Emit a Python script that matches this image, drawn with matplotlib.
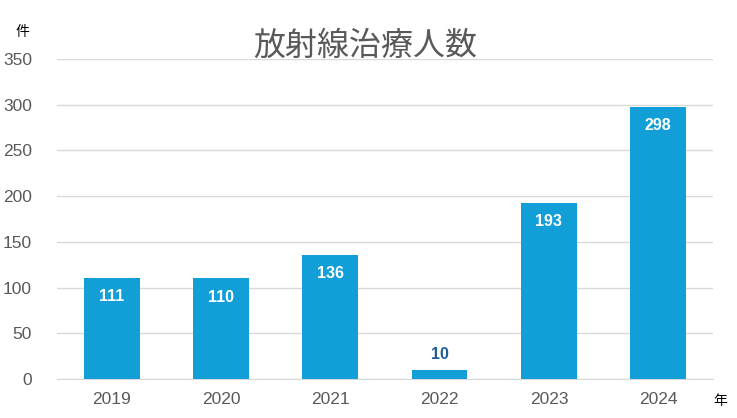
import matplotlib.pyplot as plt
import numpy as np

plt.rcParams['font.family'] = ['Liberation Sans', 'Noto Sans CJK JP', 'DejaVu Sans']

years = ['2019', '2020', '2021', '2022', '2023', '2024']
counts = [111, 110, 136, 10, 193, 298]

fig = plt.figure(figsize=(7.37, 4.18), dpi=100)
ax = fig.add_axes([0.0773, 0.0933, 0.89, 0.7656])

x = np.arange(len(years))
bars = ax.bar(x, counts, width=0.51, color='#129FD8', zorder=3)

ax.set_xlim(-0.5, len(years) - 0.5)
ax.set_ylim(0, 350)
ax.set_yticks(range(0, 351, 50))
ax.set_xticks(x)
ax.set_xticklabels(years)
ax.tick_params(axis='both', length=0, labelsize=12.5, colors='#595959')
ax.tick_params(axis='y', pad=18)
ax.tick_params(axis='x', pad=9)
ax.grid(axis='y', color='#D9D9D9', linewidth=1, zorder=0)
for s in ['top', 'right', 'left']:
    ax.spines[s].set_visible(False)
ax.spines['bottom'].set_color('#D9D9D9')

# data labels: inside bar, or above if the bar is too short
for xi, v in zip(x, counts):
    if v >= 50:
        ax.annotate(str(v), (xi, v), xytext=(0, -13.5), textcoords='offset points',
                    ha='center', va='center', color='white', fontsize=11.5, fontweight='bold')
    else:
        ax.annotate(str(v), (xi, v), xytext=(0, 11), textcoords='offset points',
                    ha='center', va='center', color='#1F5C99', fontsize=11.5, fontweight='bold')

fig.text(0.495, 0.89, '放射線治療人数', ha='center', va='center', fontsize=23,
         color='#595959', family=['Noto Sans CJK JP', 'DejaVu Sans'])
fig.text(0.031, 0.924, '件', ha='center', va='center', fontsize=10, color='black',
         family=['Noto Sans CJK JP', 'DejaVu Sans'])
fig.text(0.977, 0.04, '年', ha='center', va='center', fontsize=10, color='black',
         family=['Noto Sans CJK JP', 'DejaVu Sans'])

fig.savefig('out.png', dpi=100)
